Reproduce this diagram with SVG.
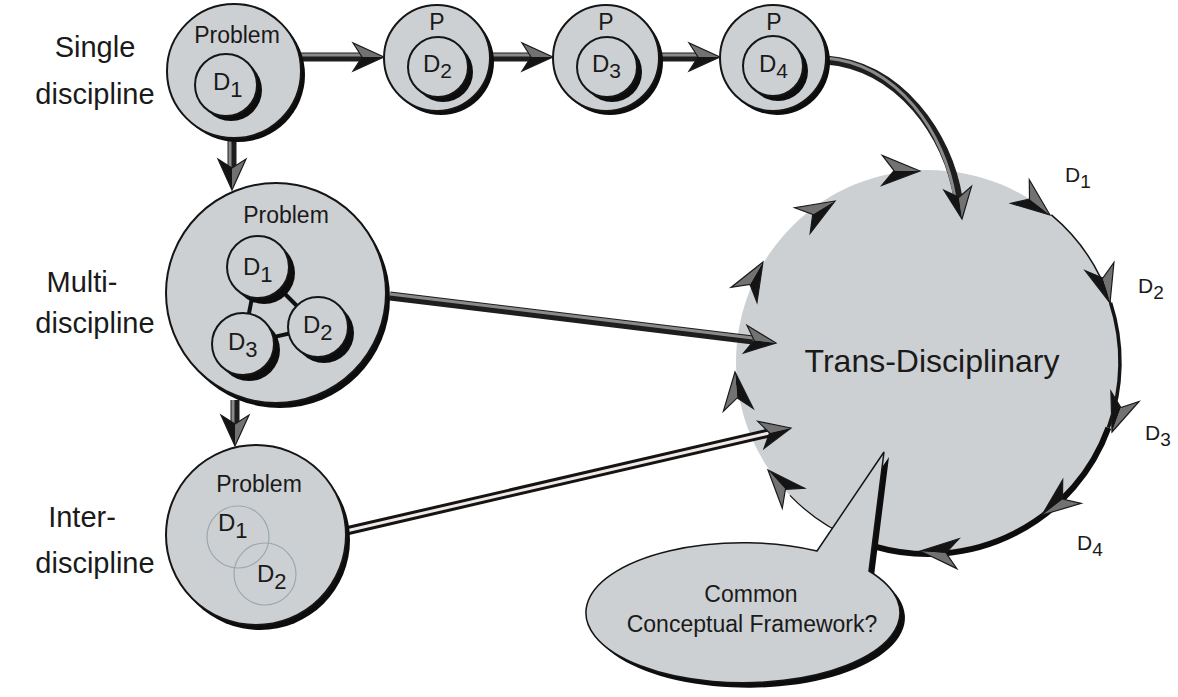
<svg xmlns="http://www.w3.org/2000/svg" xmlns:xlink="http://www.w3.org/1999/xlink" width="1178" height="697" viewBox="0 0 1178 697">
  <style>
    .lbl { font-family: "Liberation Sans", Arial, sans-serif; font-size: 29px; fill: #1a1a1a; text-anchor: middle; }
    .prob { font-family: "Liberation Sans", Arial, sans-serif; font-size: 23px; fill: #1a1a1a; text-anchor: middle; }
    .d { font-family: "Liberation Sans", Arial, sans-serif; font-size: 24px; fill: #1a1a1a; }
    .dr { font-family: "Liberation Sans", Arial, sans-serif; font-size: 21px; fill: #1a1a1a; }
    .big { font-family: "Liberation Sans", Arial, sans-serif; font-size: 32px; fill: #1a1a1a; text-anchor: middle; }
    .cb { font-family: "Liberation Sans", Arial, sans-serif; font-size: 23px; fill: #1a1a1a; text-anchor: middle; }
    .disc { fill: #cdd0d2; stroke: #151515; stroke-width: 2; }
    .shade { fill: #0d0d0d; }
    .ghost { fill: none; stroke: #9aa8b2; stroke-width: 1.2; }
    .shaft { stroke: #1e1e1e; stroke-width: 9; fill: none; }
    .hl { stroke: #8a8a8a; stroke-width: 3; fill: none; }
    .hout { stroke: #141414; stroke-width: 9; fill: none; }
    .hin { stroke: #f1e9e6; stroke-width: 3; fill: none; }
  </style>
  <defs>
    <!-- barbed, two-tone arrowhead pointing along +x, tip at origin -->
    <g id="barb">
      <path d="M0,0 L-38,-15 L-26,0 Z" fill="#727272"/>
      <path d="M0,0 L-26,0 L-38,15 Z" fill="#141414"/>
      <path d="M0,0 L-38,-15 L-26,0 L-38,15 Z" fill="none" stroke="#1a1a1a" stroke-width="1.2"/>
    </g>
    <g id="barb-s">
      <path d="M0,0 L-31,-14 L-22,0 Z" fill="#727272"/>
      <path d="M0,0 L-22,0 L-31,14 Z" fill="#141414"/>
      <path d="M0,0 L-31,-14 L-22,0 L-31,14 Z" fill="none" stroke="#1a1a1a" stroke-width="1.2"/>
    </g>
  </defs>

  <rect width="1178" height="697" fill="#ffffff"/>

  <!-- row labels -->
  <g id="labels">
    <text class="lbl" x="95" y="57">Single</text>
    <text class="lbl" x="95" y="104">discipline</text>
    <text class="lbl" x="82" y="292">Multi-</text>
    <text class="lbl" x="95" y="333">discipline</text>
    <text class="lbl" x="82" y="527">Inter-</text>
    <text class="lbl" x="95" y="573">discipline</text>
  </g>

  <!-- trans-disciplinary circle -->
  <g id="trans">
    <circle cx="928" cy="362" r="192" fill="#cdd0d2"/>
    <path d="M1051.4,214.9 A192,192 0 0 1 1110.6,302.7" fill="none" stroke="#151515" stroke-width="1.5"/>
    <path d="M1110.6,302.7 A192,192 0 0 1 1108.4,427.7" fill="none" stroke="#151515" stroke-width="3.5"/>
    <path d="M1108.4,427.7 A192,192 0 0 1 875,546.6" fill="none" stroke="#0d0d0d" stroke-width="6"/>
    <path d="M856,540 A192,192 0 0 1 789.9,495.4" fill="none" stroke="#151515" stroke-width="1.3"/>
    <text class="big" x="932" y="372">Trans-Disciplinary</text>
  </g>

  <!-- speech bubble -->
  <g id="bubble">
    <path d="M817,551 L884,452 L869,571 A157,70 0 1 1 817,551 Z" class="shade" transform="translate(5,5)"/>
    <path d="M817,551 L884,452 L869,571 A157,70 0 1 1 817,551 Z" fill="#cdd0d2" stroke="#151515" stroke-width="1.5"/>
    <text class="cb" x="751" y="602">Common</text>
    <text class="cb" x="752" y="632">Conceptual Framework?</text>
  </g>

  <!-- connectors -->
  <g id="connectors">
    <!-- single-discipline chain -->
    <line class="shaft" x1="300" y1="57" x2="362" y2="57"/>
    <line class="hl" x1="300" y1="55" x2="362" y2="55"/>
    <use href="#barb-s" transform="translate(384,57)"/>
    <line class="shaft" x1="489" y1="57" x2="531" y2="57"/>
    <line class="hl" x1="489" y1="55" x2="531" y2="55"/>
    <use href="#barb-s" transform="translate(553,57)"/>
    <line class="shaft" x1="658" y1="57" x2="698" y2="57"/>
    <line class="hl" x1="658" y1="55" x2="698" y2="55"/>
    <use href="#barb-s" transform="translate(720,57)"/>

    <!-- vertical steps -->
    <line class="shaft" x1="232" y1="140" x2="232" y2="168"/>
    <line class="hl" x1="230" y1="140" x2="230" y2="168"/>
    <use href="#barb-s" transform="translate(232,190) rotate(90)"/>
    <line class="shaft" x1="235" y1="400" x2="235" y2="424"/>
    <line class="hl" x1="233" y1="400" x2="233" y2="424"/>
    <use href="#barb-s" transform="translate(235,446) rotate(90)"/>

    <!-- curved path from the last single-discipline step -->
    <path class="shaft" d="M826,60 C900,66 948,135 958,198" stroke-width="8"/>
    <path class="hl" d="M826,58 C898,64 945,133 955,198" stroke-width="2.5"/>
    <use href="#barb-s" transform="translate(962,219) rotate(82)"/>

    <!-- multi-discipline to trans -->
    <line class="shaft" x1="390" y1="296" x2="753" y2="340"/>
    <line class="hl" x1="390" y1="294" x2="753" y2="338"/>
    <use href="#barb-s" transform="translate(776,343) rotate(7)"/>

    <!-- inter-discipline to trans (hollow) -->
    <line class="hout" x1="346" y1="531" x2="769" y2="433"/>
    <line class="hin" x1="346" y1="531" x2="769" y2="433"/>
    <use href="#barb-s" transform="translate(791,428) rotate(-13)"/>

    <!-- arrowheads around the circle -->
    <use href="#barb" transform="translate(920,171) rotate(1)"/>
    <use href="#barb" transform="translate(835,201) rotate(-31)"/>
    <use href="#barb" transform="translate(763,262) rotate(-60)"/>
    <use href="#barb" transform="translate(735,372) rotate(-95)"/>
    <use href="#barb" transform="translate(768,470) rotate(-132)"/>
    <use href="#barb" transform="translate(920,551) rotate(184)"/>
    <use href="#barb" transform="translate(1050,215) rotate(38)"/>
    <use href="#barb" transform="translate(1110,303) rotate(74)"/>
    <use href="#barb" transform="translate(1112,432) rotate(110)"/>
    <use href="#barb" transform="translate(1042,515) rotate(142)"/>
  </g>

  <!-- circle labels -->
  <g id="trans-labels">
    <text class="dr" x="1065" y="182">D<tspan dy="6" font-size="19">1</tspan></text>
    <text class="dr" x="1138" y="293">D<tspan dy="6" font-size="19">2</tspan></text>
    <text class="dr" x="1145" y="440">D<tspan dy="6" font-size="19">3</tspan></text>
    <text class="dr" x="1077" y="550">D<tspan dy="6" font-size="19">4</tspan></text>
  </g>

  <!-- single discipline -->
  <g id="single">
    <circle class="shade" cx="238" cy="75" r="67"/>
    <circle class="disc" cx="234" cy="71" r="67"/>
    <text class="prob" x="237" y="43">Problem</text>
    <circle class="shade" cx="231" cy="90" r="31"/>
    <circle class="disc" cx="226" cy="85" r="31"/>
    <text class="d" x="213" y="90">D<tspan dy="7" font-size="22">1</tspan></text>
  </g>

  <g id="p2">
    <circle class="shade" cx="441" cy="62" r="53"/>
    <circle class="disc" cx="437" cy="58" r="53"/>
    <text class="prob" x="437" y="30">P</text>
    <circle class="shade" cx="443" cy="72" r="30"/>
    <circle class="disc" cx="438" cy="67" r="30"/>
    <text class="d" x="423" y="72">D<tspan dy="6" font-size="21">2</tspan></text>
  </g>

  <g id="p3">
    <circle class="shade" cx="610" cy="62" r="53"/>
    <circle class="disc" cx="606" cy="58" r="53"/>
    <text class="prob" x="606" y="30">P</text>
    <circle class="shade" cx="612" cy="72" r="30"/>
    <circle class="disc" cx="607" cy="67" r="30"/>
    <text class="d" x="592" y="72">D<tspan dy="6" font-size="21">3</tspan></text>
  </g>

  <g id="p4">
    <circle class="shade" cx="777" cy="62" r="53"/>
    <circle class="disc" cx="773" cy="58" r="53"/>
    <text class="prob" x="774" y="30">P</text>
    <circle class="shade" cx="778" cy="71" r="30"/>
    <circle class="disc" cx="773" cy="66" r="30"/>
    <text class="d" x="759" y="72">D<tspan dy="6" font-size="21">4</tspan></text>
  </g>

  <!-- multi-discipline -->
  <g id="multi">
    <circle class="shade" cx="280" cy="298" r="110"/>
    <circle class="disc" cx="276" cy="293" r="110"/>
    <text class="prob" x="286" y="223">Problem</text>
    <g stroke="#111" stroke-width="4">
      <line x1="258" y1="267" x2="318" y2="327"/>
      <line x1="258" y1="267" x2="243" y2="344"/>
      <line x1="243" y1="344" x2="318" y2="327"/>
    </g>
    <circle class="shade" cx="264" cy="273" r="31"/>
    <circle class="disc" cx="258" cy="267" r="31"/>
    <text class="d" x="243" y="275">D<tspan dy="7" font-size="22">1</tspan></text>
    <circle class="shade" cx="324" cy="333" r="30"/>
    <circle class="disc" cx="318" cy="327" r="30"/>
    <text class="d" x="303" y="333">D<tspan dy="7" font-size="22">2</tspan></text>
    <circle class="shade" cx="249" cy="350" r="31"/>
    <circle class="disc" cx="243" cy="344" r="31"/>
    <text class="d" x="228" y="350">D<tspan dy="7" font-size="22">3</tspan></text>
  </g>

  <!-- inter-discipline -->
  <g id="inter">
    <circle class="shade" cx="260" cy="540" r="90"/>
    <circle class="disc" cx="256" cy="535" r="90"/>
    <text class="prob" x="259" y="492">Problem</text>
    <circle class="ghost" cx="238" cy="537" r="31"/>
    <circle class="ghost" cx="265" cy="574" r="31"/>
    <text class="d" x="218" y="531">D<tspan dy="7" font-size="22">1</tspan></text>
    <text class="d" x="257" y="582">D<tspan dy="7" font-size="22">2</tspan></text>
  </g>
</svg>
